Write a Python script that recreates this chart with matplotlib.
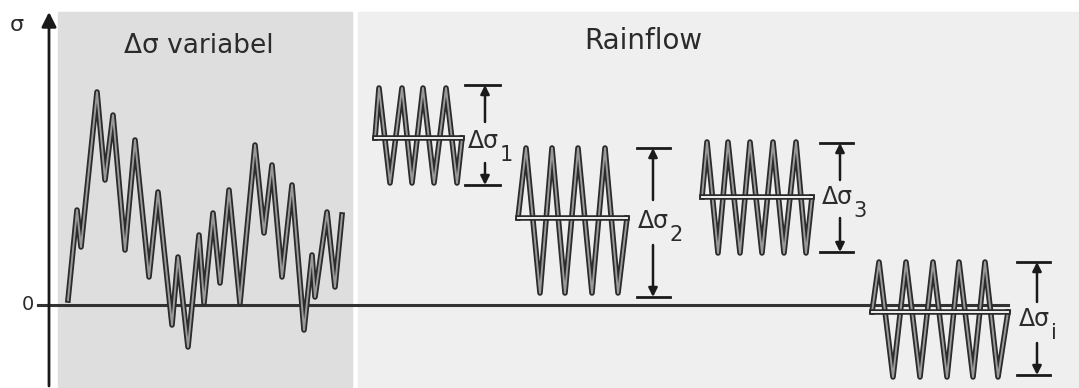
import matplotlib
matplotlib.use("Agg")
import matplotlib.pyplot as plt
import matplotlib.patheffects as pe
from matplotlib.patches import Rectangle

plt.rcParams['font.family'] = ['DejaVu Sans']

# variable amplitude signal (turning points), sigma measured upward from the zero line
signal_x = [68, 77, 81, 97, 105, 113, 125, 135, 149, 158, 172, 178, 188, 199, 204,
            213, 220, 229, 240, 255, 264, 272, 282, 292, 304, 312, 315, 327, 335, 342]
signal_s = [5, 95, 58, 213, 125, 190, 55, 165, 28, 113, -20, 48, -42, 70, 2,
            92, 22, 115, 2, 160, 72, 140, 28, 120, -25, 50, 8, 93, 18, 90]

# rainflow blocks: constant amplitude cycles
block_labels = ['1', '2', '3', 'i']
block_start = [375, 518, 702, 872]
block_end = [462, 627, 812, 1008]
block_mean = [167, 87, 108, -7]
block_max = [217, 157, 163, 43]
block_min = [122, 12, 52, -72]
block_peaks_x = [[379, 402, 423, 446],
                 [526, 552, 578, 605],
                 [707, 728, 750, 773, 796],
                 [879, 906, 933, 959, 985]]
block_valleys_x = [[390, 412, 434, 457],
                   [540, 565, 592, 618],
                   [718, 740, 762, 784, 806],
                   [893, 920, 947, 973, 998]]

# range markers (bars, arrow shaft, label)
range_bar_x0 = [465, 637, 820, 1017]
range_bar_x1 = [500, 670, 853, 1050]
range_arrow_x = [485, 653, 840, 1037]
range_top = [220, 157, 162, 43]
range_bottom = [120, 8, 53, -70]
range_gap_top = [183, 105, 125, 3]
range_gap_bottom = [142, 60, 87, -38]
label_x = [468, 638, 822, 1019]
label_y = [164, 84, 108, -14]

fig = plt.figure(figsize=(10.79, 3.88), dpi=100)
ax = fig.add_axes([0, 0, 1, 1])
ax.set_xlim(0, 1079)
ax.set_ylim(-83, 305)
ax.axis('off')

ax.add_patch(Rectangle((58, -83), 294, 376, color='#dedede', zorder=0))
ax.add_patch(Rectangle((358, -83), 721, 376, color='#efefef', zorder=0))

ax.text(199, 259, 'Δσ variabel', fontsize=19, ha='center', va='center', color='#2b2b2b')
ax.text(643, 264, 'Rainflow', fontsize=20, ha='center', va='center', color='#2b2b2b')

outline = [pe.Stroke(linewidth=4.0, foreground='#2b2b2b'), pe.Normal()]

# axes
ax.plot([38, 1008], [0, 0], color='#333333', lw=2.2, zorder=2)
ax.annotate('', xy=(49, 293), xytext=(49, -81),
            arrowprops=dict(arrowstyle='-|>', color='#1a1a1a', lw=2,
                            mutation_scale=22, shrinkA=0, shrinkB=0))
ax.text(17, 280, 'σ', fontsize=16, ha='center', va='center', color='#2b2b2b')
ax.text(28, 0, '0', fontsize=14, ha='center', va='center', color='#2b2b2b')

ax.plot(signal_x, signal_s, color='#9a9a9a', lw=1.4, path_effects=outline, zorder=3)

for i in range(len(block_labels)):
    xs = [block_start[i]]
    ys = [block_mean[i]]
    for px, vx in zip(block_peaks_x[i], block_valleys_x[i]):
        xs += [px, vx]
        ys += [block_max[i], block_min[i]]
    xs.append(block_end[i])
    ys.append(block_mean[i])
    ax.plot(xs, ys, color='#9a9a9a', lw=1.4, path_effects=outline, zorder=3)
    ax.plot([block_start[i], block_end[i]], [block_mean[i], block_mean[i]],
            color='#f2f2f2', lw=1.4, path_effects=outline, zorder=4)

    ax.plot([range_bar_x0[i], range_bar_x1[i]], [range_top[i]] * 2, color='#1a1a1a', lw=2)
    ax.plot([range_bar_x0[i], range_bar_x1[i]], [range_bottom[i]] * 2, color='#1a1a1a', lw=2)
    arrow = dict(arrowstyle='-|>', color='#1a1a1a', lw=1.8, mutation_scale=13,
                 shrinkA=0, shrinkB=0)
    ax.annotate('', xy=(range_arrow_x[i], range_top[i]),
                xytext=(range_arrow_x[i], range_gap_top[i]), arrowprops=arrow)
    ax.annotate('', xy=(range_arrow_x[i], range_bottom[i]),
                xytext=(range_arrow_x[i], range_gap_bottom[i]), arrowprops=arrow)
    t = ax.text(label_x[i], label_y[i], 'Δσ', fontsize=17, ha='left', va='center',
                color='#2b2b2b')
    ax.annotate(block_labels[i], xy=(1, 0.05), xycoords=t, xytext=(0.5, -2),
                textcoords='offset points', fontsize=15, ha='left', va='center',
                color='#2b2b2b')

fig.savefig('out.png', dpi=100)
